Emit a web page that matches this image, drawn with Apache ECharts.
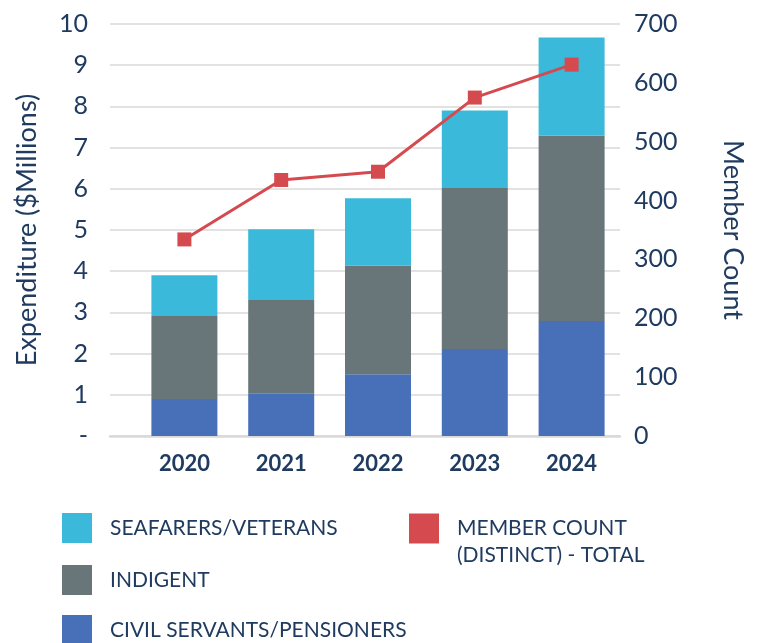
<!DOCTYPE html>
<html>
<head>
<meta charset="utf-8">
<script src="https://cdn.jsdelivr.net/npm/echarts@6/dist/echarts.min.js"></script>
<style>
html,body{margin:0;padding:0;background:#fff;}
#chart{width:757px;height:643px;}
</style>
</head>
<body>
<div id="chart"></div>
<script>
var years = ['2020', '2021', '2022', '2023', '2024'];
var civilServants = [0.90, 1.04, 1.50, 2.11, 2.79];
var indigent = [2.01, 2.26, 2.64, 3.91, 4.50];
var seafarers = [0.99, 1.72, 1.63, 1.88, 2.38];
var memberCount = [334, 435, 449, 575, 631];
var leftTickLabels = ['-', '1', '2', '3', '4', '5', '6', '7', '8', '9', '10'];
var rightTickLabels = ['0', '100', '200', '300', '400', '500', '600', '700'];

var navy = '#1f3b60';
var font = 'Lato';
var chart = echarts.init(document.getElementById('chart'));

function legendBox(name, left, top) {
  return {left: left, top: top, padding: 0, itemWidth: 30, itemHeight: 30, selectedMode: false,
    textStyle: {color: navy, fontFamily: font, fontSize: 21, padding: [0, 0, 0, 13]},
    data: [{name: name, icon: 'rect'}]};
}

chart.setOption({
  animation: false,
  backgroundColor: '#ffffff',
  grid: [
    {left: 110, right: 137, top: 24, bottom: 207},
    {left: 136, right: 137, top: 24, bottom: 207}
  ],
  xAxis: [
    {gridIndex: 0, type: 'category', data: [''], axisLine: {show: true, lineStyle: {color: '#d9d9d9', width: 2.5}},
     axisTick: {show: false}, axisLabel: {show: false}},
    {gridIndex: 1, type: 'category', data: years, axisLine: {show: false}, axisTick: {show: false},
     axisLabel: {color: navy, fontFamily: font, fontSize: 22, fontWeight: 'bold', margin: 17}}
  ],
  yAxis: [
    {gridIndex: 0, type: 'value', min: 0, max: 10, interval: 1,
     axisLine: {show: false}, axisTick: {show: false},
     splitLine: {lineStyle: {color: '#d9d9d9', width: 1.5}},
     axisLabel: {color: navy, fontFamily: font, fontSize: 25, margin: 22,
       formatter: function (v) { return leftTickLabels[Math.round(v)]; }},
     name: 'Expenditure ($Millions)', nameLocation: 'middle', nameRotate: 90, nameGap: 69,
     nameTextStyle: {color: navy, fontFamily: font, fontSize: 27}},
    {gridIndex: 1, type: 'value', min: 0, max: 10, interval: 1, show: false},
    {gridIndex: 1, type: 'value', position: 'right', min: 0, max: 700, interval: 100,
     axisLine: {show: false}, axisTick: {show: false}, splitLine: {show: false},
     axisLabel: {color: navy, fontFamily: font, fontSize: 25, margin: 14,
       formatter: function (v) { return rightTickLabels[Math.round(v / 100)]; }},
     name: 'Member Count', nameLocation: 'middle', nameRotate: -90, nameGap: 99,
     nameTextStyle: {color: navy, fontFamily: font, fontSize: 27}}
  ],
  legend: [
    legendBox('SEAFARERS/VETERANS', 62, 513),
    legendBox('INDIGENT', 62, 565),
    legendBox('CIVIL SERVANTS/PENSIONERS', 62, 615),
    {left: 409, top: 488, padding: 0, itemWidth: 30, itemHeight: 30,
     selectedMode: false,
     textStyle: {color: navy, fontFamily: font, fontSize: 21, lineHeight: 27, padding: [0, 0, 0, 13]},
     formatter: function () { return '\nMEMBER COUNT\n(DISTINCT) - TOTAL'; },
     data: [{name: 'MEMBER COUNT (DISTINCT) - TOTAL', icon: 'rect'}]}
  ],
  series: [
    {name: 'CIVIL SERVANTS/PENSIONERS', type: 'bar', stack: 'exp', xAxisIndex: 1, yAxisIndex: 1,
     barWidth: 66, itemStyle: {color: '#4870b8'}, data: civilServants},
    {name: 'INDIGENT', type: 'bar', stack: 'exp', xAxisIndex: 1, yAxisIndex: 1,
     barWidth: 66, itemStyle: {color: '#68767a'}, data: indigent},
    {name: 'SEAFARERS/VETERANS', type: 'bar', stack: 'exp', xAxisIndex: 1, yAxisIndex: 1,
     barWidth: 66, itemStyle: {color: '#3bb9da'}, data: seafarers},
    {name: 'MEMBER COUNT (DISTINCT) - TOTAL', type: 'line', xAxisIndex: 1, yAxisIndex: 2,
     symbol: 'rect', symbolSize: 14, lineStyle: {color: '#d44a4f', width: 3},
     itemStyle: {color: '#d44a4f'}, data: memberCount}
  ]
});
</script>
</body>
</html>
